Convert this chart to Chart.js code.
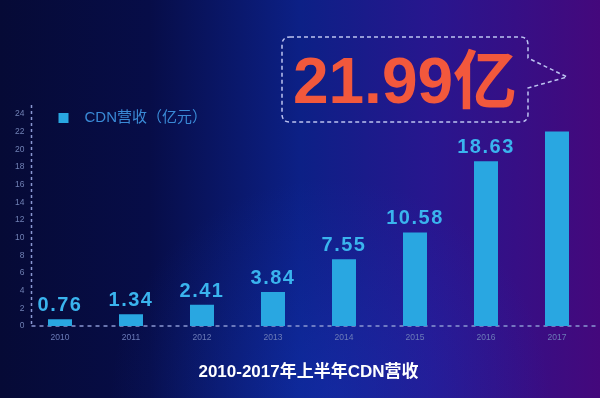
<!DOCTYPE html>
<html>
<head>
<meta charset="utf-8">
<script src="https://cdn.jsdelivr.net/npm/chart.js@4/dist/chart.umd.min.js"></script>
<style>
  html, body { margin: 0; padding: 0; background: #0a1050; }
  #wrap { width: 600px; height: 398px; }
</style>
</head>
<body>
<div id="wrap"><canvas id="chart" width="600" height="398"></canvas></div>
<script>
const years = ['2010', '2011', '2012', '2013', '2014', '2015', '2016', '2017'];
const revenue = [0.76, 1.34, 2.41, 3.84, 7.55, 10.58, 18.63, 21.99];
const yTicks = [0, 2, 4, 6, 8, 10, 12, 14, 16, 18, 20, 22, 24];
const seriesLabel = 'CDN营收（亿元）';
const chartTitle = '2010-2017年上半年CDN营收';
const yMax = 25;

const barColor = '#29a7e1';
const labelColor = '#3ab4ee';
const FONT = '"Liberation Sans", Arial, "Noto Sans CJK SC", sans-serif';

// background gradient
const bgPlugin = {
  id: 'bg',
  beforeDraw(chart) {
    const { ctx, width, height } = chart;
    ctx.save();
    const g = ctx.createLinearGradient(0, 0, width, 0);
    g.addColorStop(0, '#060a36');
    g.addColorStop(0.25, '#070d48');
    g.addColorStop(0.5, '#0c2086');
    g.addColorStop(0.72, '#28168e');
    g.addColorStop(1, '#44087c');
    ctx.fillStyle = g;
    ctx.fillRect(0, 0, width, height);
    const r = ctx.createRadialGradient(330, 398, 10, 330, 398, 220);
    r.addColorStop(0, 'rgba(20,60,200,0.35)');
    r.addColorStop(1, 'rgba(20,60,200,0)');
    ctx.fillStyle = r;
    ctx.fillRect(0, 0, width, height);
    ctx.restore();
  }
};

// dashed axes, legend, value labels and callout
const decoPlugin = {
  id: 'deco',
  beforeDatasetsDraw(chart) {
    const { ctx, chartArea: a } = chart;
    const x0 = a.left + 7;
    ctx.save();
    ctx.strokeStyle = '#8a98d2';
    ctx.lineWidth = 1.5;
    ctx.setLineDash([3, 3]);
    ctx.beginPath();
    ctx.moveTo(x0, a.top);
    ctx.lineTo(x0, a.bottom);
    ctx.stroke();
    ctx.setLineDash([4, 4]);
    ctx.beginPath();
    ctx.moveTo(x0, a.bottom);
    ctx.lineTo(a.right + 5, a.bottom);
    ctx.stroke();
    ctx.restore();
  },
  afterDatasetsDraw(chart) {
    const { ctx, chartArea: a } = chart;
    const meta = chart.getDatasetMeta(0);
    const data = chart.data.datasets[0].data;
    ctx.save();

    // legend
    ctx.fillStyle = barColor;
    ctx.fillRect(a.left + 34, a.top + 8, 10, 10);
    ctx.fillStyle = '#3a8ad6';
    ctx.font = '15px ' + FONT;
    ctx.textAlign = 'left';
    ctx.textBaseline = 'middle';
    ctx.fillText(chart.data.datasets[0].label, a.left + 60, a.top + 13);

    // value labels (last one goes in the callout)
    ctx.fillStyle = labelColor;
    ctx.font = 'bold 20px ' + FONT;
    ctx.letterSpacing = '1.5px';
    ctx.textAlign = 'center';
    ctx.textBaseline = 'alphabetic';
    meta.data.forEach((bar, i) => {
      if (i === data.length - 1) return;
      ctx.fillText(data[i].toFixed(2), bar.x, bar.y - 8);
    });
    ctx.letterSpacing = '0px';

    // callout bubble
    const bx = 282, by = 37, bw = 246, bh = 85, rr = 8;
    ctx.strokeStyle = '#bcc3f0';
    ctx.lineWidth = 1.5;
    ctx.setLineDash([4, 3]);
    ctx.beginPath();
    ctx.moveTo(bx + rr, by);
    ctx.lineTo(bx + bw - rr, by);
    ctx.quadraticCurveTo(bx + bw, by, bx + bw, by + rr);
    ctx.lineTo(bx + bw, by + 21);
    ctx.lineTo(bx + bw + 39, by + 40);
    ctx.lineTo(bx + bw, by + 51);
    ctx.lineTo(bx + bw, by + bh - rr);
    ctx.quadraticCurveTo(bx + bw, by + bh, bx + bw - rr, by + bh);
    ctx.lineTo(bx + rr, by + bh);
    ctx.quadraticCurveTo(bx, by + bh, bx, by + bh - rr);
    ctx.lineTo(bx, by + rr);
    ctx.quadraticCurveTo(bx, by, bx + rr, by);
    ctx.stroke();

    ctx.fillStyle = '#f2583c';
    ctx.font = 'bold 64px ' + FONT;
    ctx.textAlign = 'center';
    ctx.textBaseline = 'alphabetic';
    ctx.fillText(data[data.length - 1].toFixed(2) + '亿', 405, 103);
    ctx.restore();
  }
};

new Chart(document.getElementById('chart'), {
  type: 'bar',
  data: {
    labels: years,
    datasets: [{
      label: seriesLabel,
      data: revenue,
      backgroundColor: barColor,
      borderWidth: 0,
      barPercentage: 0.338,
      categoryPercentage: 1
    }]
  },
  options: {
    responsive: false,
    animation: false,
    layout: { padding: { top: 105, right: 7.5, bottom: 7.6, left: 0 } },
    plugins: {
      legend: { display: false },
      tooltip: { enabled: false },
      title: {
        display: true,
        text: chartTitle,
        position: 'bottom',
        fullSize: false,
        color: '#ffffff',
        font: { family: FONT, size: 17, weight: 'bold', lineHeight: 1.2 },
        padding: { top: 10, bottom: 8 }
      }
    },
    scales: {
      x: {
        grid: { display: false, drawTicks: false },
        border: { display: false },
        ticks: { color: '#6c7cb8', font: { family: FONT, size: 8.5 }, padding: 7 },
        afterFit: s => { s.height = 26; }
      },
      y: {
        min: 0,
        max: yMax,
        grid: { display: false, drawTicks: false },
        border: { display: false },
        ticks: { color: '#7080b4', font: { family: FONT, size: 8.5 }, padding: 0 },
        afterBuildTicks: s => { s.ticks = yTicks.map(v => ({ value: v })); },
        afterFit: s => { s.width = 24.5; }
      }
    }
  },
  plugins: [bgPlugin, decoPlugin]
});
</script>
</body>
</html>
